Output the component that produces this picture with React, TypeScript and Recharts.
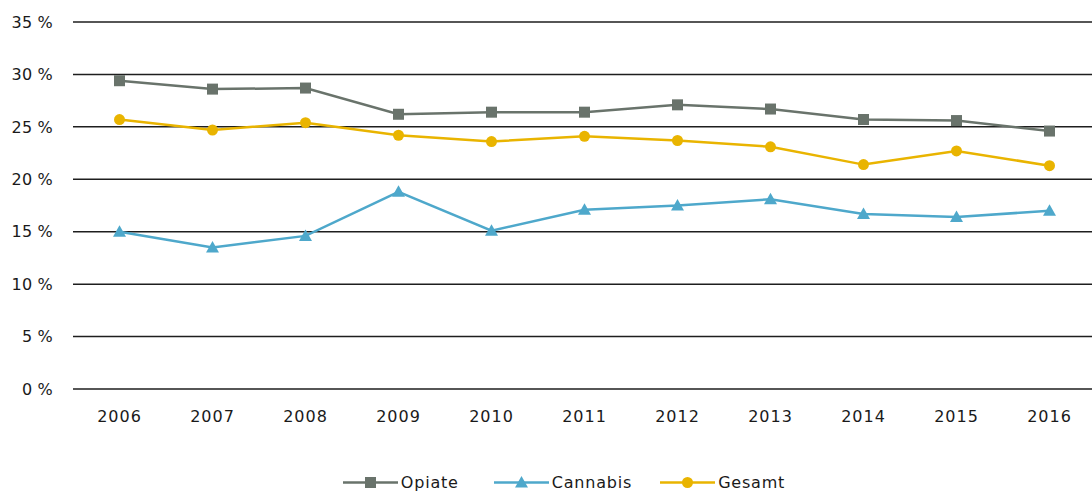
import React from "react";
import { LineChart, Line, XAxis, YAxis, CartesianGrid, Legend } from "recharts";

const years = ["2006", "2007", "2008", "2009", "2010", "2011", "2012", "2013", "2014", "2015", "2016"];
const opiate = [29.4, 28.6, 28.7, 26.2, 26.4, 26.4, 27.1, 26.7, 25.7, 25.6, 24.6];
const cannabis = [15.0, 13.5, 14.6, 18.8, 15.1, 17.1, 17.5, 18.1, 16.7, 16.4, 17.0];
const gesamt = [25.7, 24.7, 25.4, 24.2, 23.6, 24.1, 23.7, 23.1, 21.4, 22.7, 21.3];
const yTicks = [0, 5, 10, 15, 20, 25, 30, 35];
const seriesOrder = ["Opiate", "Cannabis", "Gesamt"];

const data = years.map((y, i) => ({ year: y, Opiate: opiate[i], Cannabis: cannabis[i], Gesamt: gesamt[i] }));

const C_OP = "#69736b";
const C_CA = "#4ea8cb";
const C_GE = "#e9b400";
const FONT = "'DejaVu Sans', sans-serif";
const TXT = "#1a1a1a";
const legendGaps = [35, 28, 0];

const SquareDot = (p: any) => {
  const { cx, cy } = p;
  if (cx == null || cy == null) return null;
  return <rect x={cx - 5.5} y={cy - 5.5} width={11} height={11} fill={C_OP} />;
};
const TriDot = (p: any) => {
  const { cx, cy } = p;
  if (cx == null || cy == null) return null;
  return <path d={`M${cx},${cy - 6.5} L${cx + 6.5},${cy + 5} L${cx - 6.5},${cy + 5} Z`} fill={C_CA} />;
};
const CircDot = (p: any) => {
  const { cx, cy } = p;
  if (cx == null || cy == null) return null;
  return <circle cx={cx} cy={cy} r={5.5} fill={C_GE} />;
};

const markerFor = (name: string, color: string) => {
  if (name === "Opiate") return <rect x={22} y={5} width={11} height={11} fill={color} />;
  if (name === "Cannabis") return <path d="M27.5,4 L34,15.5 L21,15.5 Z" fill={color} />;
  return <circle cx={27.5} cy={10.5} r={5.5} fill={color} />;
};

const LegendContent = (props: any) => {
  const payload = [...(props.payload || [])].sort(
    (a: any, b: any) => seriesOrder.indexOf(a.value) - seriesOrder.indexOf(b.value)
  );
  return (
    <div style={{ display: "flex", justifyContent: "center", fontFamily: FONT, fontSize: 16, letterSpacing: 0.8, color: TXT, height: 22, paddingLeft: 32 }}>
      {payload.map((e: any, i: number) => (
        <div key={i} style={{ display: "flex", alignItems: "center", marginRight: legendGaps[i] }}>
          <svg width={55} height={21}>
            <line x1={0} x2={55} y1={10.5} y2={10.5} stroke={e.color} strokeWidth={2.5} />
            {markerFor(e.value, e.color)}
          </svg>
          <span style={{ marginLeft: 3 }}>{e.value}</span>
        </div>
      ))}
    </div>
  );
};

export default function App() {
  return (
    <div style={{ position: "absolute", left: 0, top: 0, width: 1092, height: 493, overflow: "hidden", background: "#fff" }}>
      <LineChart width={1096} height={493} data={data} margin={{ top: 22, right: 0, left: 0, bottom: 0 }}>
        <CartesianGrid vertical={false} stroke="#1e1e1e" strokeWidth={1.5} />
        <XAxis
          dataKey="year"
          axisLine={false}
          tickLine={false}
          tickSize={0}
          tickMargin={22}
          height={82}
          padding={{ left: 46.5, right: 46.5 }}
          tick={{ fill: TXT, fontSize: 16, fontFamily: FONT, letterSpacing: 1 }}
          interval={0}
        />
        <YAxis
          domain={[0, 35]}
          ticks={yTicks}
          axisLine={false}
          tickLine={false}
          tickSize={0}
          tickMargin={20}
          width={73}
          tickFormatter={(v: number) => `${v} %`}
          tick={{ fill: TXT, fontSize: 16, fontFamily: FONT, letterSpacing: 0.2 }}
        />
        <Legend verticalAlign="bottom" height={22} content={<LegendContent />} />
        <Line dataKey="Opiate" stroke={C_OP} strokeWidth={2.5} dot={<SquareDot />} activeDot={false} isAnimationActive={false} />
        <Line dataKey="Cannabis" stroke={C_CA} strokeWidth={2.5} dot={<TriDot />} activeDot={false} isAnimationActive={false} />
        <Line dataKey="Gesamt" stroke={C_GE} strokeWidth={2.5} dot={<CircDot />} activeDot={false} isAnimationActive={false} />
      </LineChart>
    </div>
  );
}
